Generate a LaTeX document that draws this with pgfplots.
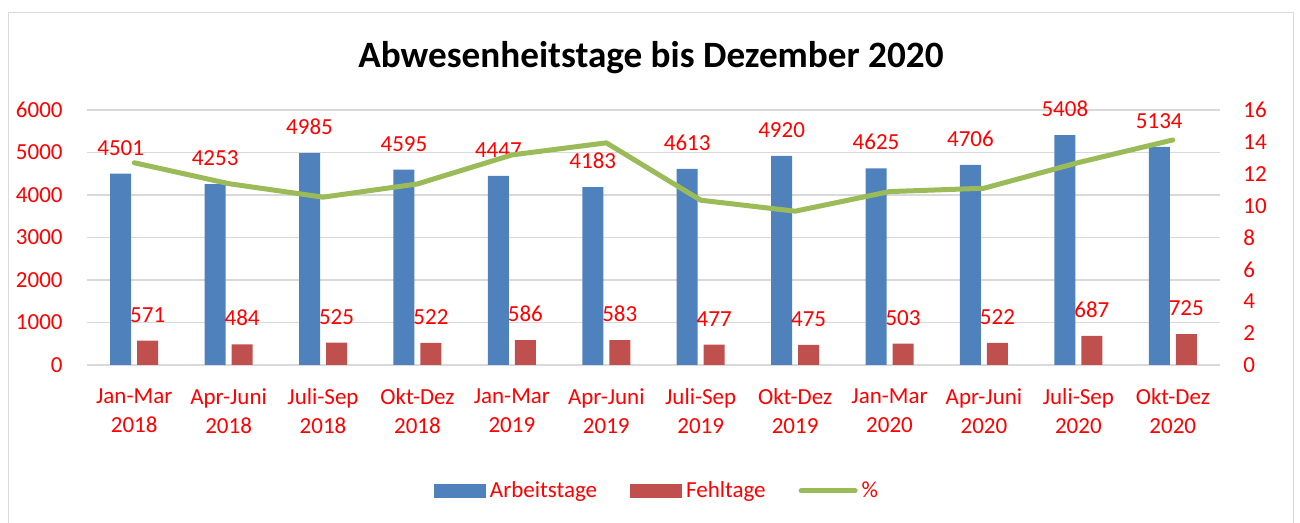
\documentclass[border=0pt]{standalone}
\usepackage{pgfplots}
\pgfplotsset{compat=1.18}
\usepackage{fontspec}
\setmainfont{Carlito}
\definecolor{cblue}{HTML}{4F81BD}
\definecolor{cred}{HTML}{C0504D}
\definecolor{cgreen}{HTML}{9BBB59}
\definecolor{cgrid}{HTML}{D9D9D9}
\definecolor{lblred}{HTML}{FF0000}
\newcommand{\tfont}{\fontsize{11.5}{14.5}\selectfont}
\begin{document}
\begin{tikzpicture}
\useasboundingbox (0,0) rectangle (650pt,261.5pt);
\draw[cgrid, line width=0.9pt] (4.25pt,-5pt) rectangle (646.75pt,255.25pt);
\node[font=\fontsize{18.6}{22}\selectfont\bfseries, anchor=base] at (325.5pt,227.5pt) {Abwesenheitstage bis Dezember 2020};
\begin{axis}[
  at={(43.5pt,79pt)}, anchor=south west,
  scale only axis, width=566.5pt, height=127.5pt,
  xmin=-0.5, xmax=11.5, ymin=0, ymax=6000,
  ybar=3pt, bar width=10.5pt,
  xtick=data,
  xticklabels={{Jan-Mar\\2018},{Apr-Juni\\2018},{Juli-Sep\\2018},{Okt-Dez\\2018},{Jan-Mar\\2019},{Apr-Juni\\2019},{Juli-Sep\\2019},{Okt-Dez\\2019},{Jan-Mar\\2020},{Apr-Juni\\2020},{Juli-Sep\\2020},{Okt-Dez\\2020}},
  xticklabel style={align=center, anchor=north, inner sep=0pt, yshift=-11.5pt, font=\tfont, text=lblred},
  ytick={0,1000,...,6000},
  yticklabel style={anchor=east, inner sep=0pt, xshift=-12pt, font=\tfont, text=lblred},
  /pgf/number format/assume math mode=true,
  /pgf/number format/1000 sep={},
  ymajorgrids, major grid style={cgrid, line width=0.75pt},
  axis x line*=bottom, axis y line*=left,
  x axis line style={cgrid, line width=0.75pt, -},
  y axis line style={draw=none},
  tick style={draw=none}, major tick length=0pt,
  nodes near coords,
  every node near coord/.append style={font=\tfont, text=lblred, anchor=south, inner sep=0pt, yshift=9pt},
  legend style={at={(0.504,-0.494)}, anchor=center, draw=none, fill=none, font=\tfont, text=lblred,
    legend columns=3, /tikz/every even column/.append style={column sep=14.5pt},
    nodes={inner sep=2pt}},
  legend cell align=left,
]
\addplot[fill=cblue, draw=none, legend image code/.code={\fill[cblue] (0pt,-3.5pt) rectangle (26pt,3.5pt);}] coordinates {(0,4501) (1,4253) (2,4985) (3,4595) (4,4447) (5,4183) (6,4613) (7,4920) (8,4625) (9,4706) (10,5408) (11,5134)};
\addlegendentry{Arbeitstage}
\addplot[fill=cred, draw=none, legend image code/.code={\fill[cred] (0pt,-3.5pt) rectangle (26pt,3.5pt);}] coordinates {(0,571) (1,484) (2,525) (3,522) (4,586) (5,583) (6,477) (7,475) (8,503) (9,522) (10,687) (11,725)};
\addlegendentry{Fehltage}
\addlegendimage{legend image code/.code={\draw[cgreen, line width=2.5pt, line cap=round] (0pt,0pt) -- (27pt,0pt);}}
\addlegendentry{\%}
\end{axis}
\begin{axis}[
  at={(43.5pt,79pt)}, anchor=south west,
  scale only axis, width=566.5pt, height=127.5pt,
  xmin=-0.5, xmax=11.5, ymin=0, ymax=16,
  axis x line=none, axis y line*=right,
  y axis line style={draw=none},
  ytick={0,2,...,16},
  yticklabel style={anchor=west, inner sep=0pt, xshift=11.5pt, font=\tfont, text=lblred},
  /pgf/number format/assume math mode=true,
  tick style={draw=none}, major tick length=0pt,
]
\addplot[cgreen, line width=2.5pt, line join=round, line cap=round, mark=none] coordinates {(0,12.69) (1,11.38) (2,10.53) (3,11.36) (4,13.18) (5,13.94) (6,10.34) (7,9.65) (8,10.88) (9,11.09) (10,12.70) (11,14.12)};
\end{axis}
\end{tikzpicture}
\end{document}
